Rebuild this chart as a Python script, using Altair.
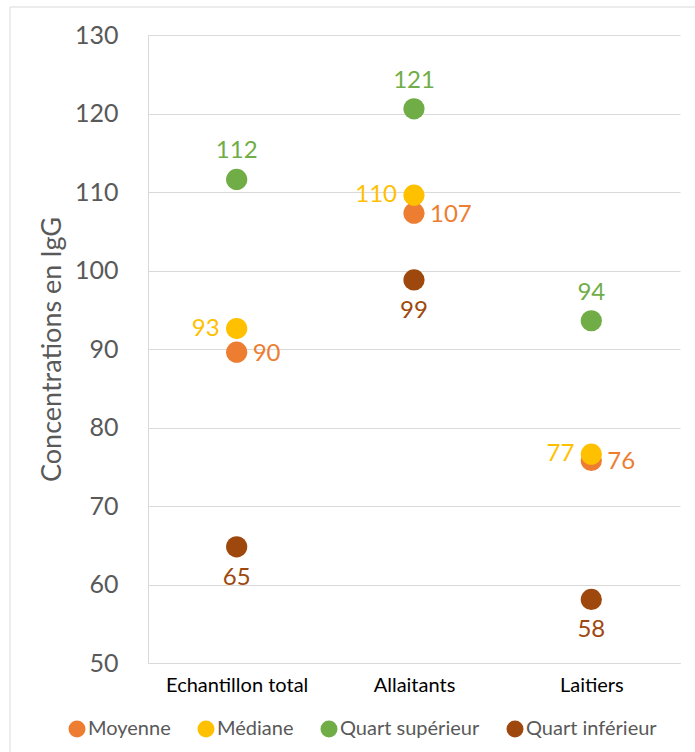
import altair as alt
import pandas as pd

categories = ["Echantillon total", "Allaitants", "Laitiers"]
series = ["Moyenne", "Médiane", "Quart supérieur", "Quart inférieur"]
colors = ["#ED7D31", "#FFC000", "#70AD47", "#9E480E"]

moyenne = [89.6, 107.3, 75.8]
mediane = [92.6, 109.6, 76.6]
quart_sup = [111.6, 120.6, 93.6]
quart_inf = [64.8, 98.8, 58.1]

y_ticks = [50, 60, 70, 80, 90, 100, 110, 120, 130]

rows = []
for s, vals in zip(series, [moyenne, mediane, quart_sup, quart_inf]):
    for c, v in zip(categories, vals):
        rows.append({"cat": c, "serie": s, "val": v})
df = pd.DataFrame(rows)

FONT = "Lato"
W, H = 532, 628

x_enc = alt.X("cat:N", sort=categories, scale=alt.Scale(paddingInner=0, paddingOuter=0),
              axis=alt.Axis(title=None, labelAngle=0, labelFont=FONT, labelFontSize=20,
                            labelColor="#000000", ticks=False, labelPadding=12,
                            domainColor="#d9d9d9", grid=False))
y_enc = alt.Y("val:Q", scale=alt.Scale(domain=[50, 130], nice=False, zero=False),
              axis=alt.Axis(values=y_ticks, grid=True, gridColor="#d9d9d9", domainColor="#d9d9d9",
                            ticks=False, labelFont=FONT, labelFontSize=25, labelColor="#595959",
                            labelPadding=30, title="Concentrations en IgG", titleFont=FONT,
                            titleFontSize=27, titleColor="#595959", titleFontWeight="normal",
                            titleAngle=270, titleAlign="center", titleBaseline="middle",
                            titleX=-96, titleY=H / 2))

base = alt.Chart(df)

points = base.mark_circle(size=450, opacity=1).encode(
    x=x_enc, y=y_enc,
    color=alt.Color("serie:N", sort=series,
                    scale=alt.Scale(domain=series, range=colors),
                    legend=alt.Legend(orient="none", legendX=-81, legendY=684,
                                      direction="horizontal", title=None, labelFont=FONT,
                                      labelFontSize=20, labelColor="#595959",
                                      symbolType="circle", symbolSize=289, symbolStrokeWidth=0,
                                      symbolOpacity=1, labelOffset=1, columnPadding=25,
                                      columns=4)),
)

label_specs = [
    ("Moyenne", dict(dx=16, dy=2, align="left")),
    ("Médiane", dict(dx=-17, dy=0, align="right")),
    ("Quart supérieur", dict(dx=0, dy=-28, align="center")),
    ("Quart inférieur", dict(dx=0, dy=31, align="center")),
]
text_layers = []
for (s, kw), col in zip(label_specs, colors):
    text_layers.append(
        base.transform_filter(alt.datum.serie == s).mark_text(
            font=FONT, fontSize=24, baseline="middle", color=col, **kw
        ).encode(x=alt.X("cat:N", sort=categories), y="val:Q", text=alt.Text("val:Q", format=".0f"))
    )

frame = pd.DataFrame({"a": [0]})
border_left = alt.Chart(frame).mark_rule(color="#d9d9d9", strokeWidth=1).encode(
    x=alt.value(-138), y=alt.value(-28), y2=alt.value(717))
border_top = alt.Chart(frame).mark_rule(color="#d9d9d9", strokeWidth=1).encode(
    x=alt.value(-138), x2=alt.value(547), y=alt.value(-28))

chart = alt.layer(points, *text_layers, border_left, border_top).properties(
    width=W, height=H,
    autosize=alt.AutoSizeParams(type="none"),
    padding={"left": 148, "top": 35, "right": 15, "bottom": 89},
    background="white",
).configure_view(stroke=None)

chart.save("out.html", embed_options={"renderer": "svg", "actions": False})
